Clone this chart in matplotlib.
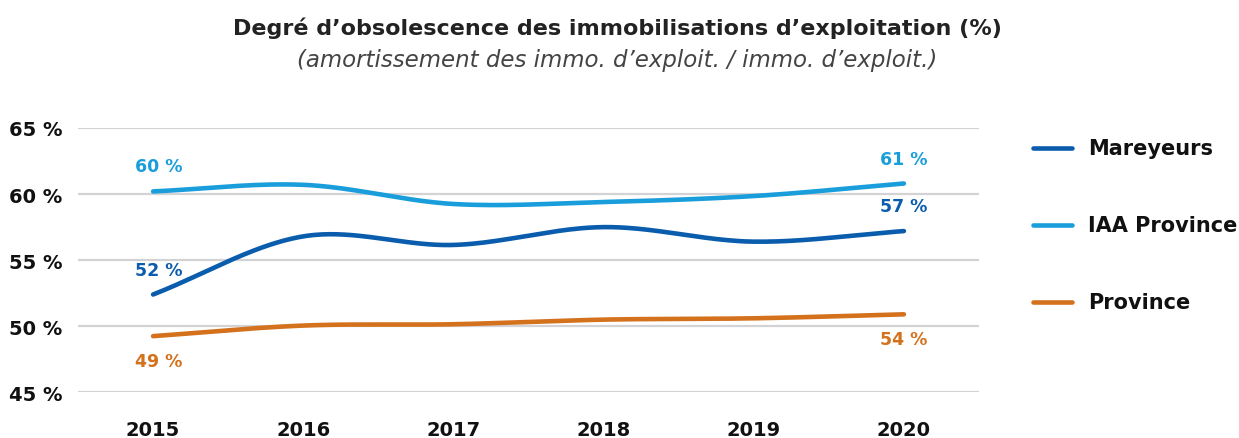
import numpy as np
import matplotlib
matplotlib.use("Agg")
import matplotlib.pyplot as plt
from matplotlib.lines import Line2D

years = [2015, 2016, 2017, 2018, 2019, 2020]
mareyeurs = [52.4, 56.8, 56.15, 57.5, 56.4, 57.2]
iaa_province = [60.2, 60.7, 59.25, 59.4, 59.85, 60.8]
province = [49.25, 50.05, 50.15, 50.5, 50.6, 50.9]

series_names = ["Mareyeurs", "IAA Province", "Province"]
series_values = [mareyeurs, iaa_province, province]
colors = ["#0a5cad", "#1a9edb", "#d4711d"]
first_labels = ["52 %", "60 %", "49 %"]
last_labels = ["57 %", "61 %", "54 %"]
label_side = [1, 1, -1]  # above / below

yticks = [45, 50, 55, 60, 65]
ytick_labels = ["45 %", "50 %", "55 %", "60 %", "65 %"]

title = "Degré d\u2019obsolescence des immobilisations d\u2019exploitation (%)"
subtitle = "(amortissement des immo. d\u2019exploit. / immo. d\u2019exploit.)"

FONT = "DejaVu Sans"
plt.rcParams["font.family"] = [FONT]


def catmull_rom(x, y, n=40):
    x = np.asarray(x, float)
    y = np.asarray(y, float)
    xs, ys = [], []
    m = len(x)
    for i in range(m - 1):
        h = x[i + 1] - x[i]
        if i == 0:
            m0 = (y[1] - y[0]) / h
        else:
            m0 = (y[i + 1] - y[i - 1]) / (x[i + 1] - x[i - 1])
        if i + 1 == m - 1:
            m1 = (y[i + 1] - y[i]) / h
        else:
            m1 = (y[i + 2] - y[i]) / (x[i + 2] - x[i])
        t = np.linspace(0, 1, n, endpoint=(i == m - 2))
        h00 = 2 * t**3 - 3 * t**2 + 1
        h10 = t**3 - 2 * t**2 + t
        h01 = -2 * t**3 + 3 * t**2
        h11 = t**3 - t**2
        xs.append(x[i] + t * h)
        ys.append(h00 * y[i] + h10 * h * m0 + h01 * y[i + 1] + h11 * h * m1)
    return np.concatenate(xs), np.concatenate(ys)


W, H = 1239, 439
fig = plt.figure(figsize=(W / 100, H / 100), dpi=100)
ax = fig.add_axes([78 / W, 1 - 393.3 / H, (979 - 78) / W, (393.3 - 129) / H])

ax.set_xlim(2014.5, 2020.5)
ax.set_ylim(45, 65)
ax.set_yticks(yticks)
ax.set_yticklabels(ytick_labels)
ax.set_xticks(years)
ax.set_xticklabels([str(y) for y in years])
for s in ax.spines.values():
    s.set_visible(False)
ax.tick_params(axis="both", length=0, labelsize=14, labelcolor="#111111")
ax.tick_params(axis="y", pad=11)
ax.tick_params(axis="x", pad=20)
for lab in ax.get_xticklabels() + ax.get_yticklabels():
    lab.set_fontweight("bold")
ax.grid(axis="y", color="#d3d3d6", lw=1.6)
ax.set_axisbelow(True)

for name, vals, c, fl, ll, side in zip(series_names, series_values, colors,
                                        first_labels, last_labels, label_side):
    xs, ys = catmull_rom(years, vals)
    ax.plot(xs, ys, color=c, lw=3.3, solid_capstyle="round", zorder=3)
    off = 18 * side
    ax.annotate(fl, (years[0], vals[0]), xytext=(4, off), textcoords="offset points",
                ha="center", va="center", color=c, fontsize=12.5, fontweight="bold")
    ax.annotate(ll, (years[-1], vals[-1]), xytext=(0, off), textcoords="offset points",
                ha="center", va="center", color=c, fontsize=12.5, fontweight="bold")

# legend
leg_y = [149, 226, 303]
for name, c, yy in zip(series_names, colors, leg_y):
    fig.add_artist(Line2D([1033 / W, 1072 / W], [1 - yy / H, 1 - yy / H], color=c,
                          lw=3.3, solid_capstyle="round"))
    fig.text(1088 / W, 1 - yy / H, name, ha="left", va="center", fontsize=15,
             fontweight="bold", color="#111111")

fig.text(617 / W, 1 - 28 / H, title, ha="center", va="center", fontsize=16,
         fontweight="bold", color="#222222")
fig.text(617 / W, 1 - 61 / H, subtitle, ha="center", va="center", fontsize=16.5,
         fontstyle="italic", fontweight="normal", color="#444444")

fig.savefig("out.png", dpi=100)
